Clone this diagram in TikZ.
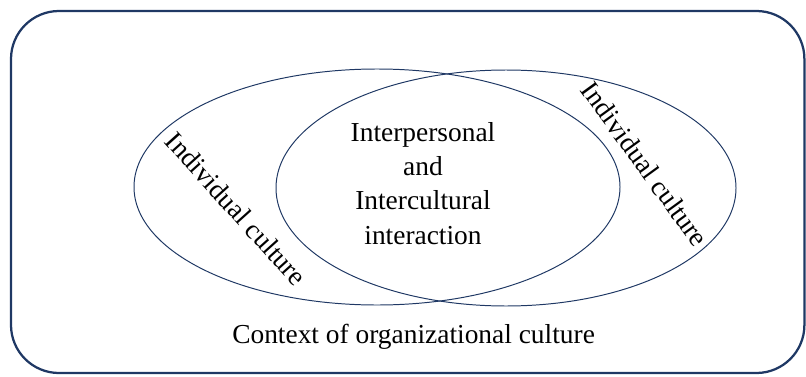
\documentclass[tikz,border=0pt]{standalone}
\usepackage{fontspec}
\setmainfont{Liberation Serif}
\usepackage{tikz}
\usetikzlibrary{positioning}
\definecolor{framenavy}{RGB}{31,56,100}

\begin{document}
\begin{tikzpicture}[scale=1.0,
    label text/.style={font=\fontsize{19.5}{24.2}\selectfont, inner sep=0pt}]
  \useasboundingbox (0,0) rectangle (20.15,9.4);
  % outer frame: context
  \draw[framenavy, line width=1.6pt, rounded corners=1.2cm] (0.275,0.075) rectangle (20.11,9.125);
  % the two overlapping cultures
  \draw[framenavy, line width=0.7pt] (9.425,4.725) ellipse [x radius=6.075, y radius=2.95];
  \draw[framenavy, line width=0.7pt] (12.65,4.7) ellipse [x radius=5.75, y radius=2.95];
  \node[label text, align=center] (interaction) at (10.575,4.81)
      {Interpersonal\\and\\Intercultural\\interaction};
  \node[label text, rotate=-48] (indivleft) at (5.91,4.18) {Individual culture};
  \node[label text, rotate=-54] (indivright) at (16.12,5.3) {Individual culture};
  \node[label text, anchor=base] (context) at (10.34,0.825) {Context of organizational culture};
\end{tikzpicture}
\end{document}
